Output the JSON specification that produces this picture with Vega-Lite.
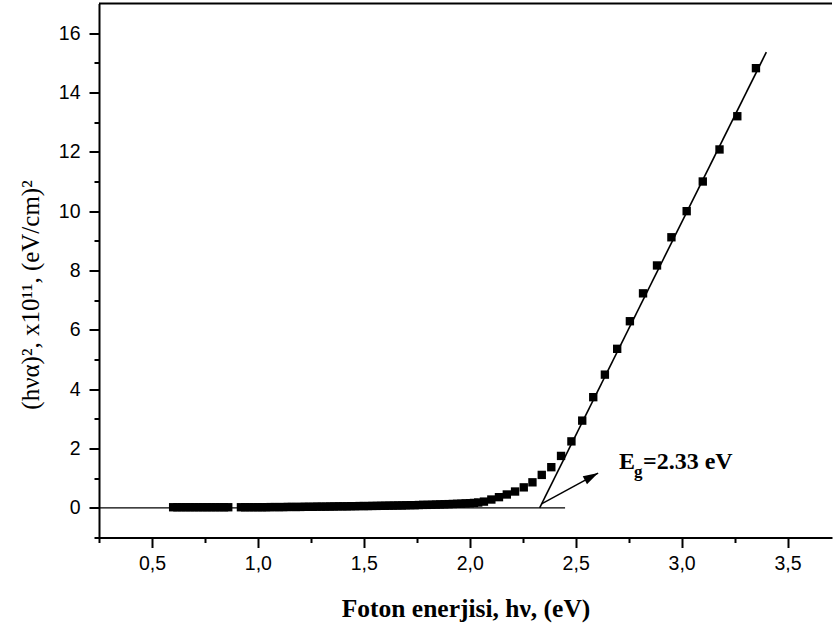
{
  "$schema": "https://vega.github.io/schema/vega-lite/v6.json",
  "width": 733,
  "height": 534,
  "autosize": {"type": "none"},
  "padding": {"left": 99, "top": 3.5, "right": 1, "bottom": 88.5},
  "background": "white",
  "config": {
    "view": {"stroke": null},
    "axis": {
      "domainColor": "black",
      "domainWidth": 2,
      "tickColor": "black",
      "tickWidth": 2,
      "grid": false,
      "labelColor": "black",
      "labelFont": "Liberation Sans",
      "labelFontSize": 19.5,
      "titleColor": "black",
      "titleFont": "Liberation Serif"
    },
    "axisRight": {"domain": false, "ticks": false, "labels": false},
    "axisTop": {"domain": false, "ticks": false, "labels": false}
  },
  "datasets": {
    "absorption": [
      {"E": 0.60, "A": 0.02}, {"E": 0.62, "A": 0.02}, {"E": 0.64, "A": 0.02}, {"E": 0.66, "A": 0.02},
      {"E": 0.68, "A": 0.02}, {"E": 0.70, "A": 0.02}, {"E": 0.72, "A": 0.02}, {"E": 0.74, "A": 0.02},
      {"E": 0.76, "A": 0.02}, {"E": 0.78, "A": 0.02}, {"E": 0.80, "A": 0.02}, {"E": 0.82, "A": 0.02},
      {"E": 0.84, "A": 0.02}, {"E": 0.86, "A": 0.02},
      {"E": 0.92, "A": 0.02}, {"E": 0.94, "A": 0.02}, {"E": 0.96, "A": 0.02}, {"E": 0.98, "A": 0.02},
      {"E": 1.00, "A": 0.02}, {"E": 1.02, "A": 0.02}, {"E": 1.04, "A": 0.02}, {"E": 1.06, "A": 0.025},
      {"E": 1.08, "A": 0.025}, {"E": 1.10, "A": 0.025}, {"E": 1.12, "A": 0.025}, {"E": 1.14, "A": 0.03},
      {"E": 1.16, "A": 0.03}, {"E": 1.18, "A": 0.03}, {"E": 1.20, "A": 0.03}, {"E": 1.22, "A": 0.035},
      {"E": 1.24, "A": 0.035}, {"E": 1.26, "A": 0.035}, {"E": 1.28, "A": 0.04}, {"E": 1.30, "A": 0.04},
      {"E": 1.32, "A": 0.04}, {"E": 1.34, "A": 0.045}, {"E": 1.36, "A": 0.045}, {"E": 1.38, "A": 0.05},
      {"E": 1.40, "A": 0.05}, {"E": 1.42, "A": 0.05}, {"E": 1.44, "A": 0.055}, {"E": 1.46, "A": 0.055},
      {"E": 1.48, "A": 0.06}, {"E": 1.50, "A": 0.06}, {"E": 1.52, "A": 0.06}, {"E": 1.54, "A": 0.065},
      {"E": 1.56, "A": 0.065}, {"E": 1.58, "A": 0.07}, {"E": 1.60, "A": 0.07}, {"E": 1.62, "A": 0.075},
      {"E": 1.64, "A": 0.075}, {"E": 1.66, "A": 0.08}, {"E": 1.68, "A": 0.08}, {"E": 1.70, "A": 0.085},
      {"E": 1.72, "A": 0.09}, {"E": 1.74, "A": 0.09}, {"E": 1.76, "A": 0.095}, {"E": 1.78, "A": 0.10},
      {"E": 1.80, "A": 0.10}, {"E": 1.82, "A": 0.105}, {"E": 1.84, "A": 0.11}, {"E": 1.86, "A": 0.115},
      {"E": 1.88, "A": 0.12}, {"E": 1.90, "A": 0.125}, {"E": 1.92, "A": 0.13}, {"E": 1.94, "A": 0.135},
      {"E": 1.96, "A": 0.14}, {"E": 1.98, "A": 0.15}, {"E": 2.00, "A": 0.155}, {"E": 2.02, "A": 0.165},
      {"E": 2.04, "A": 0.18},
      {"E": 2.067, "A": 0.21}, {"E": 2.102, "A": 0.28}, {"E": 2.138, "A": 0.36}, {"E": 2.175, "A": 0.45},
      {"E": 2.214, "A": 0.55}, {"E": 2.255, "A": 0.69}, {"E": 2.296, "A": 0.86}, {"E": 2.340, "A": 1.11},
      {"E": 2.385, "A": 1.37}, {"E": 2.431, "A": 1.75}, {"E": 2.480, "A": 2.24}, {"E": 2.531, "A": 2.94},
      {"E": 2.583, "A": 3.73}, {"E": 2.638, "A": 4.49}, {"E": 2.696, "A": 5.36}, {"E": 2.756, "A": 6.29},
      {"E": 2.818, "A": 7.23}, {"E": 2.884, "A": 8.17}, {"E": 2.952, "A": 9.12}, {"E": 3.024, "A": 10.00},
      {"E": 3.100, "A": 11.00}, {"E": 3.179, "A": 12.08}, {"E": 3.263, "A": 13.20}, {"E": 3.351, "A": 14.82}
    ],
    "frameTop": [{"E": 0.25, "E2": 3.71, "A": 17}],
    "baseline": [{"E": 0.25, "A": 0}, {"E": 2.45, "A": 0}],
    "tangent": [{"E": 2.33, "A": 0}, {"E": 3.40, "A": 15.36}],
    "arrow": [{"E": 2.339, "A": 0.135, "E2": 2.606, "A2": 1.17}],
    "arrowTip": [{"E": 2.606, "A": 1.17}],
    "labelMain": [{"E": 2.705, "A": 1.314, "t": "E"}, {"E": 2.818, "A": 1.314, "t": "=2.33 eV"}],
    "labelSub": [{"E": 2.775, "A": 1.03, "t": "g"}]
  },
  "encoding": {
    "x": {
      "field": "E", "type": "quantitative",
      "scale": {"domain": [0.25, 3.71], "nice": false, "zero": false},
      "axis": {
        "orient": "bottom",
        "domain": true,
        "domainColor": "black",
        "tickColor": "black",
        "values": [0.25, 0.5, 0.75, 1, 1.25, 1.5, 1.75, 2, 2.25, 2.5, 2.75, 3, 3.25, 3.5],
        "tickSize": {"condition": {"test": "datum.value % 0.5 === 0", "value": 10}, "value": 5},
        "labelExpr": "datum.value % 0.5 === 0 ? replace(format(datum.value, '.1f'), '.', ',') : ''",
        "labelOverlap": false,
        "labelPadding": 7,
        "title": "Foton enerjisi, hν, (eV)",
        "titleFontSize": 25.5,
        "titleFontWeight": "bold",
        "titleBaseline": "alphabetic",
        "titleY": 78.5
      }
    },
    "y": {
      "field": "A", "type": "quantitative",
      "scale": {"domain": [-1, 17], "nice": false, "zero": false},
      "axis": {
        "orient": "left",
        "domain": true,
        "domainColor": "black",
        "tickColor": "black",
        "values": [-1, 0, 1, 2, 3, 4, 5, 6, 7, 8, 9, 10, 11, 12, 13, 14, 15, 16],
        "tickSize": {"condition": {"test": "datum.value % 2 === 0", "value": 10}, "value": 5},
        "labelExpr": "datum.value % 2 === 0 ? format(datum.value, 'd') : ''",
        "labelOverlap": false,
        "labelPadding": 9,
        "title": "(hνα)², x10¹¹, (eV/cm)²",
        "titleFontSize": 25,
        "titleFontWeight": "normal",
        "titleAngle": 270,
        "titleAlign": "center",
        "titleBaseline": "alphabetic",
        "titleX": -60.5,
        "titleY": 291
      }
    }
  },
  "layer": [
    {
      "data": {"name": "frameTop"},
      "mark": {"type": "rule", "color": "black", "strokeWidth": 2},
      "encoding": {"x2": {"field": "E2"}}
    },
    {
      "data": {"name": "baseline"},
      "mark": {"type": "line", "color": "black", "strokeWidth": 1.3}
    },
    {
      "data": {"name": "tangent"},
      "mark": {"type": "line", "color": "black", "strokeWidth": 1.6}
    },
    {
      "data": {"name": "absorption"},
      "mark": {"type": "point", "shape": "square", "filled": true, "color": "black", "opacity": 1, "size": 70}
    },
    {
      "data": {"name": "arrow"},
      "mark": {"type": "rule", "color": "black", "strokeWidth": 1.5},
      "encoding": {"x2": {"field": "E2"}, "y2": {"field": "A2"}}
    },
    {
      "data": {"name": "arrowTip"},
      "mark": {"type": "point", "shape": "M0,0L-2,-0.6L-2,0.6Z", "filled": true, "color": "black", "opacity": 1, "size": 225, "angle": 332, "strokeWidth": 0}
    },
    {
      "data": {"name": "labelMain"},
      "mark": {"type": "text", "font": "Liberation Serif", "fontWeight": "bold", "fontSize": 24, "align": "left", "baseline": "alphabetic", "color": "black"},
      "encoding": {"text": {"field": "t"}}
    },
    {
      "data": {"name": "labelSub"},
      "mark": {"type": "text", "font": "Liberation Serif", "fontWeight": "bold", "fontSize": 17, "align": "left", "baseline": "alphabetic", "color": "black"},
      "encoding": {"text": {"field": "t"}}
    }
  ]
}
